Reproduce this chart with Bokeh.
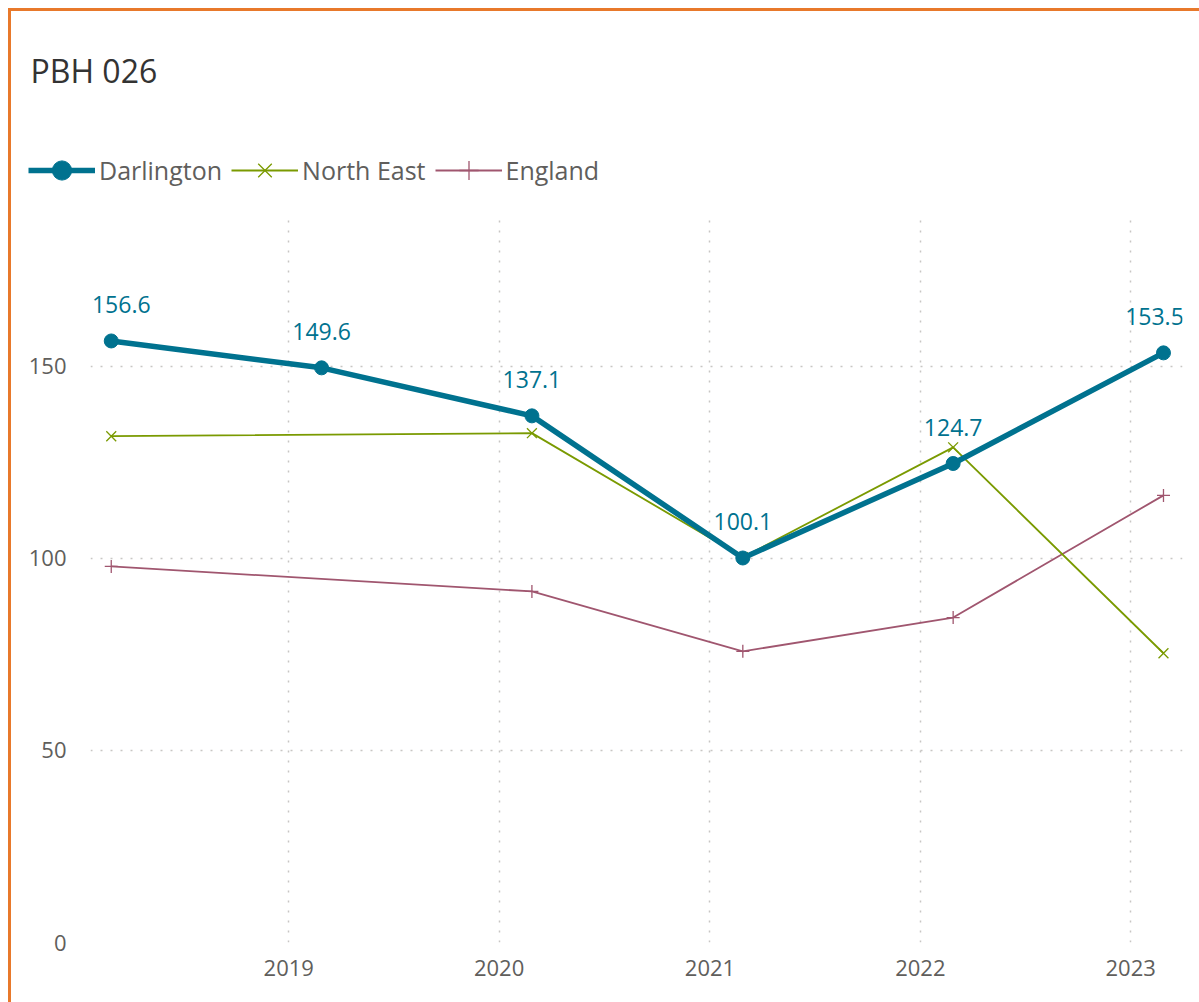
from datetime import datetime
from bokeh.plotting import figure
from bokeh.layouts import column
from bokeh.models import (Range1d, FixedTicker, DatetimeTickFormatter, Legend,
                          LegendItem, ColumnDataSource, Label)
from bokeh.core.properties import value
from bokeh.embed import file_html
from bokeh.resources import INLINE

# ---- data ----
title_text = "PBH 026"
darl_years = [2018, 2019, 2020, 2021, 2022, 2023]
darl_values = [156.6, 149.6, 137.1, 100.1, 124.7, 153.5]
ne_years = [2018, 2020, 2021, 2022, 2023]
ne_values = [131.8, 132.6, 100.3, 128.9, 75.3]
eng_years = [2018, 2020, 2021, 2022, 2023]
eng_values = [97.9, 91.4, 75.8, 84.6, 116.4]
y_ticks = [0, 50, 100, 150]
x_tick_years = [2019, 2020, 2021, 2022, 2023]
series_names = ["Darlington", "North East", "England"]

FONT = "Open Sans"
C_DARL = "#00728F"
C_NE = "#7A9A01"
C_ENG = "#A0566F"
GREY = "#605E5C"

STYLE = {
    "Darlington": dict(line=dict(color=C_DARL, line_width=5.5),
                       mk=dict(marker="circle", size=14, fill_color=C_DARL, line_color=C_DARL)),
    "North East": dict(line=dict(color=C_NE, line_width=1.8),
                       mk=dict(marker="x", size=14, line_color=C_NE, line_width=1.3)),
    "England": dict(line=dict(color=C_ENG, line_width=1.8),
                    mk=dict(marker="cross", size=13, line_color=C_ENG, line_width=1.3)),
}


def to_dt(years):
    return [datetime(y, 2, 27) for y in years]


n = len(darl_values)
lbl_dx = [10 if i == 0 else (-9 if i == n - 1 else 0) for i in range(n)]
darl_src = ColumnDataSource(dict(x=to_dt(darl_years), y=darl_values,
                                 lbl=[f"{v:.1f}" for v in darl_values], dx=lbl_dx))
ne_src = ColumnDataSource(dict(x=to_dt(ne_years), y=ne_values))
eng_src = ColumnDataSource(dict(x=to_dt(eng_years), y=eng_values))

W = 1188
HEAD_H = 194
MAIN_H = 991 - HEAD_H

# ---------- header: title + legend ----------
header = figure(width=W, height=HEAD_H, output_backend="svg", toolbar_location=None,
                x_range=Range1d(0, W), y_range=Range1d(HEAD_H, 0),
                x_axis_location=None, y_axis_location=None,
                min_border=0, min_border_left=0, min_border_right=0,
                min_border_top=0, min_border_bottom=0)
header.frame_align = False
header.grid.visible = False
header.outline_line_color = None
header.border_fill_color = "white"
header.background_fill_color = "white"
header.add_layout(Label(x=19, y=59, text=title_text, text_baseline="middle",
                        text_font=FONT, text_font_size="32px", text_color="#333333"))

nan = float("nan")
leg_items = []
for name in series_names:
    st = STYLE[name]
    lr = header.line(x=[nan], y=[nan], **st["line"])
    mr = header.scatter(x=[nan], y=[nan], **st["mk"])
    leg_items.append(LegendItem(label=name, renderers=[lr, mr]))

legend = Legend(items=leg_items, orientation="horizontal", location=(17, 11))
legend.label_text_font = FONT
legend.label_text_font_size = "25px"
legend.label_text_color = GREY
legend.glyph_width = 67
legend.glyph_height = 48
legend.label_height = 48
legend.label_standoff = 4
legend.spacing = 9
legend.padding = 0
legend.margin = 0
legend.border_line_color = None
legend.background_fill_alpha = 0
header.add_layout(legend, "center")

# ---------- main chart ----------
p = figure(width=W, height=MAIN_H, output_backend="svg", toolbar_location=None,
           x_axis_type="datetime",
           x_range=Range1d(datetime(2018, 1, 22), datetime(2023, 4, 1)),
           y_range=Range1d(0, 189),
           min_border_left=79, min_border_right=17, min_border_top=11,
           min_border_bottom=60)
p.frame_align = False
p.outline_line_color = None
p.background_fill_color = "white"
p.border_fill_color = "white"

for ax in (p.xaxis[0], p.yaxis[0]):
    ax.axis_line_color = None
    ax.major_tick_line_color = None
    ax.minor_tick_line_color = None
    ax.major_label_text_font = FONT
    ax.major_label_text_font_size = "22px"
    ax.major_label_text_color = GREY

p.xaxis.ticker = FixedTicker(ticks=[datetime(y, 1, 1).timestamp() * 1000 for y in x_tick_years])
p.xaxis.formatter = DatetimeTickFormatter(years="%Y", months="%Y", days="%Y")
p.xaxis.major_label_standoff = 11
p.yaxis.ticker = FixedTicker(ticks=y_ticks)
p.yaxis.major_label_standoff = 18

for g in (p.xgrid[0], p.ygrid[0]):
    g.grid_line_color = "#C8C6C4"
    g.grid_line_dash = "2 8"
    g.grid_line_width = 1.5

p.line("x", "y", source=eng_src, **STYLE["England"]["line"])
p.scatter("x", "y", source=eng_src, **STYLE["England"]["mk"])
p.line("x", "y", source=ne_src, **STYLE["North East"]["line"])
p.scatter("x", "y", source=ne_src, **STYLE["North East"]["mk"])
p.line("x", "y", source=darl_src, **STYLE["Darlington"]["line"])
p.scatter("x", "y", source=darl_src, **STYLE["Darlington"]["mk"])
p.text("x", "y", text="lbl", source=darl_src, text_align="center",
       text_baseline="middle", x_offset="dx", y_offset=-36, text_font=value(FONT),
       text_font_size="23px", text_color=C_DARL)

layout = column(header, p, spacing=0)
layout.styles = {"margin-left": "8px", "margin-top": "8px",
                 "border-left": "3px solid #E8792B", "border-top": "3px solid #E8792B"}

open("out.html", "w").write(file_html(layout, INLINE))
